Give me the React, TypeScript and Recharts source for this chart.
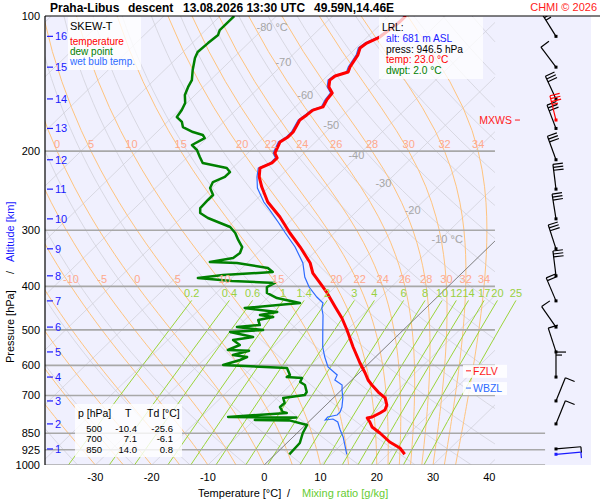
import React from 'react';
import { ComposedChart, Line, Scatter, XAxis, YAxis, CartesianGrid } from 'recharts';

const FONT = '"Liberation Sans", Arial, Helvetica, sans-serif';

// Praha-Libus descent, 13.08.2026 13:30 UTC  (pressure hPa / temperature °C)
const TEMP_P = [100, 103, 111.4, 114.9, 117.8, 122.1, 129.9, 133.3, 136.0, 138.9, 143.9, 148.4, 153.8, 159.4, 162.0,
  166.1, 170.5, 181.3, 186.0, 190.8, 196.8, 201.9, 207.1, 212.5, 218.1, 228.3, 240.4, 259.6, 280.3, 304.3, 327.0,
  354.9, 373.6, 393.2, 413.9, 444.7, 470.6, 500.4, 546.0, 592.7, 623.9, 646.7, 663.5, 687.8, 709.0, 735.0, 754.5,
  765.9, 781.8, 785.8, 802.1, 822.8, 848.6, 888.8, 916.6, 946.5];
const TEMP_C = [-57.0, -57.0, -57.8, -59.0, -59.3, -58.4, -57.6, -57.0, -58.6, -58.8, -57.7, -56.0, -55.7, -55.1, -56.3,
  -56.5, -56.8, -55.8, -55.8, -56.3, -55.7, -55.2, -53.9, -53.9, -55.1, -53.6, -51.3, -47.5, -42.6, -37.9, -33.5,
  -28.8, -26.5, -23.4, -20.3, -16.3, -13.1, -10.0, -5.8, -1.65, 1.1, 2.9, 4.5, 6.9, 9.2, 10.8, 11.4,
  11.05, 10.4, 9.7, 10.9, 12.2, 14.7, 18.1, 21.0, 23.0];

const DEW_P = [100, 102.1, 107.5, 110.2, 114.9, 120.3, 124.0, 131.9, 138.9, 143.9, 150.0, 156.2, 162.0, 167.9, 172.2,
  176.7, 181.3, 184.1, 187.0, 193.8, 198.8, 206.1, 212.5, 218.1, 222.6, 228.3, 234.3, 241.6, 250.4, 256.9, 267.7,
  274.6, 281.8, 289.1, 295.1, 304.3, 315.4, 327.0, 337.2, 345.9, 353.1, 354.9, 364.1, 371.7, 377.4, 383.3, 389.2,
  393.2, 401.4, 413.9, 424.7, 435.7, 447.0, 456.3, 463.4, 468.1, 475.4, 487.8, 492.8, 500.4, 505.6, 518.7, 526.8,
  540.4, 554.5, 556.5, 568.9, 574.8, 583.7, 598.8, 608.1, 630.3, 636.8, 640.1, 653.4, 663.5, 687.8, 698.4, 709.0,
  727.7, 742.8, 762.0, 765.9, 781.8, 783.5, 793.9, 795.5, 814.6, 848.6, 893.3, 946.5];
const DEW_C = [-87.5, -87.5, -87.5, -86.9, -87.2, -87.4, -86.8, -85.0, -83.3, -82.7, -81.8, -80.3, -79.6, -79.2, -77.4,
  -76.3, -73.6, -71.3, -70.4, -71.4, -69.6, -67.8, -66.2, -61.0, -59.7, -59.7, -60.9, -60.3, -58.5, -58.5, -58.4,
  -57.5, -55.2, -52.1, -49.6, -47.6, -45.8, -43.8, -43.1, -43.4, -46.8, -41.8, -35.4, -33.8, -42.1, -46.0, -39.4,
  -31.4, -32.1, -31.0, -28.3, -23.3, -32.2, -25.7, -28.2, -25.5, -27.6, -26.4, -30.1, -24.9, -30.4, -25.4, -28.4,
  -26.3, -27.5, -23.6, -25.7, -22.8, -23.5, -25.6, -13.7, -11.9, -12.1, -9.2, -8.8, -7.4, -5.8, -5.6, -8.9,
  -7.7, -7.8, -6.4, -5.5, -15.2, -3.0, -9.9, -3.7, 0.3, 1.0, 2.3, 2.5];

const WET_P = [100, 103, 111.4, 114.9, 117.8, 122.1, 129.9, 133.3, 136.0, 138.9, 143.9, 148.4, 153.8, 159.4, 162.0,
  166.1, 170.5, 181.3, 186.0, 190.8, 196.8, 201.9, 207.1, 212.5, 218.1, 228.3, 241.6, 259.6, 270.4, 287.6, 304.3,
  327.0, 354.9, 381.3, 401.4, 422.5, 435.7, 447.0, 463.4, 500.4, 546.0, 574.8, 605.0, 630.3, 646.7, 663.5, 680.7,
  709.0, 742.8, 762.0, 773.8, 781.8, 793.9, 789.9, 802.1, 835.7, 866.2, 911.8, 946.5];
const WET_C = [-57.3, -57.3, -58.1, -59.3, -59.6, -58.7, -57.9, -57.3, -58.9, -59.1, -58.0, -56.3, -56.0, -55.4, -56.6,
  -56.8, -57.1, -56.1, -56.1, -56.6, -56.0, -55.5, -54.2, -54.2, -55.4, -54.0, -51.9, -48.2, -45.7, -42.0, -38.7,
  -34.4, -30.1, -27.2, -24.6, -21.4, -19.2, -18.5, -17.0, -14.3, -11.2, -9.0, -6.6, -3.5, -3.0, -0.8, 0.1,
  1.7, 3.2, 3.8, 3.8, 2.5, 2.6, 3.8, 5.2, 7.1, 8.9, 11.1, 12.7];

// altitude marks (km) and the winds reported at them
const ALT_KM = [1, 2, 3, 4, 5, 6, 7, 8, 9, 10, 11, 12, 13, 14, 15, 16];
const ALT_P = [921, 810, 720, 637, 560, 493, 431, 379, 330, 283, 243, 209, 178, 153, 130, 111];
const WIND_DIR = [85, 22, 22, 0, 342, 325, 337, 353, 342, 351, 353, 340, 339, 335, 323, 328];
const WIND_KT = [5, 10, 10, 15, 10, 10, 20, 30, 30, 30, 30, 30, 30, 30, 10, 25];
const SFC_WIND = [{ p: 946.5, dir: 85, kt: 5 }];
const MAX_WIND = [{ p: 170.5, dir: 346, kt: 35 }];

const TABLE_P = ['500', '700', '850'];
const TABLE_T = ['-10.4', '7.1', '14.0'];
const TABLE_TD = ['-25.6', '-6.1', '0.8'];

const FZLV_P = 617;
const WBZL_P = 674;

// diagram grid
const X_TICKS = [-30, -20, -10, 0, 10, 20, 30, 40];
const P_TICKS = [100, 200, 300, 400, 500, 600, 700, 850, 925, 1000];
const P_LINES_UPPER = [200, 300, 400, 500, 600, 700];
const P_LINES_LOWER = [850, 925, 1000];
const ISOTHERMS = [-120, -110, -100, -90, -80, -70, -60, -50, -40, -30, -20, -10, 0, 10, 20, 30, 40];
const ISO_LABELS = ['-80 °C', '-70', '-60', '-50', '-40', '-30', '-20', '-10 °C'];
const ISO_LABEL_T = [-80, -70, -60, -50, -40, -30, -20, -10];
const ISO_LABEL_P = [105.6, 126.6, 150.3, 174.7, 204, 236, 270, 314];
const DRY_THETA = [230, 240, 250, 260, 270, 280, 290, 300, 310, 320, 330, 340, 350, 360, 370, 380, 390, 400, 410,
  420, 430, 440, 450];
const MOIST_TW = [-30, -25, -20, -15, -10, -5, 0, 5, 10, 15, 20, 22, 24, 26, 28, 30, 32, 34];
const MIX_RATIO = [0.2, 0.4, 0.6, 1, 1.4, 2, 3, 4, 6, 8, 10, 12, 14, 17, 20, 25];
const MIX_LEVELS = [1000, 900, 800, 700, 600, 500, 430];

// skewed x axis: °C at 1000 hPa
const X_MIN = -38.94;
const X_MAX = 58.06;
const X_GRID_MAX = 41.0;
const X_LOW_LINES = 49.9;
const SKEW = 35.69;
const BARB_X = 51.84;
const ZL_X = 35.85;
const MXWS_X = 45.44;

type Pt = { x: number; p: number };

const skewX = (t: number, p: number) => t + SKEW * Math.log(1000 / p);

const clipRight = (pts: Pt[], xmax: number): Pt[] => {
  const out: Pt[] = [];
  for (let i = 0; i < pts.length; i++) {
    const a = pts[i];
    const inA = a.x <= xmax;
    if (inA) out.push(a);
    const b = pts[i + 1];
    if (!b) break;
    if (inA !== b.x <= xmax) {
      const f = (xmax - a.x) / (b.x - a.x);
      out.push({ x: xmax, p: Math.exp(Math.log(a.p) + f * (Math.log(b.p) - Math.log(a.p))) });
    }
  }
  return out;
};

const satMix = (tc: number, p: number) => {
  const e = 6.112 * Math.exp((17.67 * tc) / (tc + 243.5));
  return (0.622 * e) / (p - e);
};

const moistRate = (tk: number, p: number) => {
  const r = satMix(tk - 273.15, p);
  return (287.04 * tk + 2.501e6 * r) / p / (1005.7 + (2.501e6 * 2.501e6 * r * 0.622) / (287.04 * tk * tk));
};

const moistAdiabat = (tw: number): Pt[] => {
  const pts: Pt[] = [{ x: skewX(tw, 1000), p: 1000 }];
  let tk = tw + 273.15;
  let p = 1000;
  const dp = -5;
  while (p > 100) {
    const k1 = moistRate(tk, p);
    const k2 = moistRate(tk + k1 * dp, p + dp);
    tk += 0.5 * (k1 + k2) * dp;
    p += dp;
    if (p % 20 === 0) pts.push({ x: skewX(tk - 273.15, p), p });
  }
  return pts;
};

const dewFromVapour = (e: number) => {
  const l = Math.log(e / 6.112);
  return (243.5 * l) / (17.67 - l);
};

const profile = (ps: number[], ts: number[]): Pt[] => ps.map((p, i) => ({ x: skewX(ts[i], p), p }));

const DRY_LEVELS = Array.from({ length: 37 }, (_, i) => 1000 * Math.pow(0.1, i / 36));

const isoLines = ISOTHERMS.map((t) =>
  clipRight([{ x: skewX(t, 1000), p: 1000 }, { x: skewX(t, 100), p: 100 }], X_GRID_MAX)
);
const zeroLine = clipRight([{ x: 0, p: 1000 }, { x: skewX(0, 100), p: 100 }], X_GRID_MAX);
const dryLines = DRY_THETA.map((th) =>
  clipRight(DRY_LEVELS.map((p) => ({ x: skewX(th * Math.pow(p / 1000, 0.2857) - 273.15, p), p })), X_GRID_MAX)
).filter((d) => d.length > 1);
const moistCurves = MOIST_TW.map((tw) => ({ tw, pts: moistAdiabat(tw) }));
const moistLines = moistCurves.map((c) => clipRight(c.pts, X_GRID_MAX)).filter((d) => d.length > 1);
const moistLabels: { x: number; p: number; label: string }[] = [];
[200, 400].forEach((level) =>
  moistCurves.forEach((c) => {
    const q = c.pts.find((pt) => pt.p === level);
    if (q && q.x > X_MIN + 0.8 && q.x < X_GRID_MAX - 0.5) moistLabels.push({ x: q.x, p: level, label: String(c.tw) });
  })
);
const mixLines = MIX_RATIO.map((w) => MIX_LEVELS.map((p) => ({ x: skewX(dewFromVapour((w * p) / (622 + w)), p), p })));
const mixLabels = MIX_RATIO.map((w) => {
  const p = MIX_LEVELS[MIX_LEVELS.length - 1];
  return { x: skewX(dewFromVapour((w * p) / (622 + w)), p), p, label: String(w) };
});
const isoLabels = ISO_LABEL_T.map((t, i) => ({ x: skewX(t, ISO_LABEL_P[i]), p: ISO_LABEL_P[i], label: ISO_LABELS[i] }));
const pLinesUpper = P_LINES_UPPER.map((p) => [{ x: X_MIN, p }, { x: X_GRID_MAX, p }]);
const pLinesLower = P_LINES_LOWER.map((p) => [{ x: X_MIN, p }, { x: X_LOW_LINES, p }]);

const tempLine = profile(TEMP_P, TEMP_C);
const dewLine = profile(DEW_P, DEW_C);
const wetLine = profile(WET_P, WET_C);

const altMarks = ALT_KM.map((km, i) => ({ x: X_MIN, p: ALT_P[i], label: String(km) }));
const barbs = ALT_P.map((p, i) => ({ x: BARB_X, p, dir: WIND_DIR[i], kt: WIND_KT[i] }));
const sfcBarb = SFC_WIND.map((w) => ({ x: BARB_X, ...w }));
const maxBarb = MAX_WIND.map((w) => ({ x: BARB_X, ...w }));
const zeroLevels = [
  { x: ZL_X, p: FZLV_P, label: 'FZLV' },
  { x: ZL_X, p: WBZL_P, label: 'WBZL' },
];
const mxwsLabel = MAX_WIND.map((w) => ({ x: MXWS_X, p: w.p, label: 'MXWS' }));

const textShape = (fill: string, anchor: 'start' | 'middle' | 'end', dx: number, dy: number) => (props: any) => (
  <text x={props.cx + dx} y={props.cy + dy} fill={fill} fontSize={11} fontFamily={FONT} textAnchor={anchor}>
    {props.payload.label}
  </text>
);

const isoLabelShape = (props: any) => {
  const withUnit = props.payload.label.includes('°');
  return (
    <text x={props.cx + (withUnit ? -9 : -2)} y={props.cy + 4} fill="#a6a6a6" fontSize={11} fontFamily={FONT}
      textAnchor={withUnit ? 'start' : 'middle'}>
      {props.payload.label}
    </text>
  );
};

const altShape = (props: any) => (
  <g>
    <line x1={props.cx + 2} x2={props.cx + 8} y1={props.cy} y2={props.cy} stroke="#1a1aff" strokeWidth={1.2} />
    <text x={props.cx + 10} y={props.cy + 4} fill="#1a1aff" fontSize={11} fontFamily={FONT}>
      {props.payload.label}
    </text>
  </g>
);

const zeroLevelShape = (props: any) => {
  const color = props.payload.label === 'FZLV' ? '#ff1a1a' : '#2e6bff';
  return (
    <g>
      <rect x={props.cx - 3} y={props.cy - 6} width={44} height={13} fill="#fff" fillOpacity={0.85} />
      <line x1={props.cx} x2={props.cx + 5} y1={props.cy} y2={props.cy} stroke={color} strokeWidth={1} />
      <text x={props.cx + 7} y={props.cy + 4} fill={color} fontSize={10.5} fontFamily={FONT}>
        {props.payload.label}
      </text>
    </g>
  );
};

const mxwsShape = (props: any) => (
  <g>
    <line x1={props.cx - 5} x2={props.cx} y1={props.cy} y2={props.cy} stroke="#ff1a1a" strokeWidth={1} />
    <text x={props.cx - 8} y={props.cy + 4} fill="#ff1a1a" fontSize={10.5} fontFamily={FONT} textAnchor="end">
      {props.payload.label}
    </text>
  </g>
);

const barbShape = (color: string) => (props: any) => {
  const { cx, cy, payload } = props;
  const a = (payload.dir * Math.PI) / 180;
  const ux = Math.sin(a);
  const uy = -Math.cos(a);
  const px = -uy;
  const py = ux;
  const tx = cx + ux * 25;
  const ty = cy + uy * 25;
  const feathers: React.ReactNode[] = [];
  let kt = payload.kt;
  let pos = 0;
  while (kt >= 10) {
    const bx = tx - ux * pos;
    const by = ty - uy * pos;
    feathers.push(<line key={pos} x1={bx} y1={by} x2={bx + px * 10} y2={by + py * 10} />);
    kt -= 10;
    pos += 3;
  }
  if (kt >= 5) {
    const bx = tx - ux * pos;
    const by = ty - uy * pos;
    feathers.push(<line key={pos} x1={bx} y1={by} x2={bx + px * 6} y2={by + py * 6} />);
  }
  return (
    <g stroke={color} strokeWidth={1.2} fill="none">
      <line x1={cx} y1={cy} x2={tx} y2={ty} />
      {feathers}
      <rect x={cx - 1.5} y={cy - 1.5} width={3} height={3} fill={color} stroke="none" />
    </g>
  );
};

const gridLine = (d: Pt[], key: string, stroke: string, width: number) => (
  <Line key={key} data={d} dataKey="p" stroke={stroke} strokeWidth={width} dot={false} activeDot={false}
    isAnimationActive={false} />
);

export default function App() {
  return (
    <div style={{ position: 'absolute', left: 0, top: 0, width: 600, height: 500, background: '#fff', fontFamily: FONT }}>
      <ComposedChart width={600} height={500} margin={{ top: 16, right: 9, bottom: 0, left: 0 }}>
        <CartesianGrid fill="#f0f0fe" stroke="none" horizontal={false} vertical={false} />
        <XAxis type="number" dataKey="x" domain={[X_MIN, X_MAX]} allowDataOverflow ticks={X_TICKS} interval={0}
          axisLine={false} tickLine={false} height={35} tick={{ fontSize: 11, fill: '#000', fontFamily: FONT }} />
        <YAxis type="number" dataKey="p" scale="log" domain={[100, 1000]} reversed allowDataOverflow ticks={P_TICKS}
          interval={0} width={45} axisLine={{ stroke: '#000', strokeWidth: 1.2 }} tickLine={false} tickSize={3}
          tickMargin={2} tick={{ fontSize: 11, fill: '#000', fontFamily: FONT }} />

        {isoLines.map((d, i) => gridLine(d, `iso${i}`, '#d2d2da', 0.8))}
        {dryLines.map((d, i) => gridLine(d, `dry${i}`, '#d2d2da', 0.8))}
        {moistLines.map((d, i) => gridLine(d, `moist${i}`, '#ffc47e', 1))}
        {mixLines.map((d, i) => gridLine(d, `mix${i}`, '#9bd43a', 1))}
        {pLinesUpper.map((d, i) => gridLine(d, `pu${i}`, '#a8a8a8', 1.6))}
        {pLinesLower.map((d, i) => gridLine(d, `pl${i}`, '#a8a8a8', 1.6))}
        {gridLine(zeroLine, 'zero', '#707070', 0.8)}

        <Line data={dewLine} dataKey="p" stroke="#008000" strokeWidth={2.5} strokeLinejoin="round" dot={false}
          activeDot={false} isAnimationActive={false} />
        <Line data={wetLine} dataKey="p" stroke="#2e6bff" strokeWidth={1.2} dot={false} activeDot={false}
          isAnimationActive={false} />
        <Line data={tempLine} dataKey="p" stroke="#ff0000" strokeWidth={3} strokeLinejoin="round" dot={false}
          activeDot={false} isAnimationActive={false} />

        <Scatter data={isoLabels} shape={isoLabelShape} isAnimationActive={false} />
        <Scatter data={moistLabels} shape={textShape('#ffa98c', 'middle', 0, -3)} isAnimationActive={false} />
        <Scatter data={mixLabels} shape={textShape('#99d13f', 'middle', 0, -3)} isAnimationActive={false} />
        <Scatter data={altMarks} shape={altShape} isAnimationActive={false} />
        <Scatter data={zeroLevels} shape={zeroLevelShape} isAnimationActive={false} />
        <Scatter data={mxwsLabel} shape={mxwsShape} isAnimationActive={false} />
        <Scatter data={barbs} shape={barbShape('#000')} isAnimationActive={false} />
        <Scatter data={maxBarb} shape={barbShape('#ff0000')} isAnimationActive={false} />
        <Scatter data={sfcBarb} shape={barbShape('#1a1aff')} isAnimationActive={false} />
      </ComposedChart>

      <svg width={600} height={500} style={{ position: 'absolute', left: 0, top: 0, pointerEvents: 'none' }}
        fontFamily={FONT}>
        <line x1={45} x2={600} y1={16} y2={16} stroke="#000" strokeWidth={1.2} />
        <g fontSize={12} fontWeight="bold" fill="#000">
          <text x={50} y={12}>Praha-Libus</text>
          <text x={128} y={12}>descent</text>
          <text x={183} y={12}>13.08.2026 13:30 UTC</text>
          <text x={314} y={12}>49.59N,14.46E</text>
        </g>
        <text x={597} y={11} fontSize={11} fill="#ff1a1a" textAnchor="end">CHMI © 2026</text>

        <rect x={68} y={17} width={73} height={53} fill="#fff" fillOpacity={0.8} />
        <text x={70} y={30} fontSize={11} fill="#000">SKEW-T</text>
        <text x={70} y={45} fontSize={10} fill="#ff0000">temperature</text>
        <text x={70} y={55} fontSize={10} fill="#008000">dew point</text>
        <text x={70} y={65} fontSize={10} fill="#2e6bff">wet bulb temp.</text>

        <rect x={379} y={17} width={104} height={62} fill="#fff" fillOpacity={0.75} />
        <g fontSize={10.2}>
          <text x={382} y={31} fill="#000">LRL:</text>
          <text x={386} y={42} fill="#1a1aff">alt: 681 m ASL</text>
          <text x={386} y={52.6} fill="#000">press: 946.5 hPa</text>
          <text x={386} y={63.2} fill="#ff0000">temp: 23.0 °C</text>
          <text x={386} y={73.8} fill="#008000">dwpt: 2.0 °C</text>
        </g>

        <rect x={75} y={404} width={107} height={53} fill="#fff" fillOpacity={0.8} />
        <text x={78} y={416.5} fontSize={10.5}>p [hPa]</text>
        <text x={125} y={416.5} fontSize={10.5}>T</text>
        <text x={147} y={416.5} fontSize={10.5}>Td [°C]</text>
        {TABLE_P.map((p, i) => (
          <g key={p} fontSize={9.5} textAnchor="end">
            <text x={102} y={431.5 + i * 10.7}>{p}</text>
            <text x={137} y={431.5 + i * 10.7}>{TABLE_T[i]}</text>
            <text x={173} y={431.5 + i * 10.7}>{TABLE_TD[i]}</text>
          </g>
        ))}

        <g fontSize={11}>
          <text x={198} y={497} fill="#000">Temperature [°C]</text>
          <text x={287} y={497} fill="#000">/</text>
          <text x={302} y={497} fill="#66cc33">Mixing ratio [g/kg]</text>
        </g>
        <g fontSize={11} transform="rotate(-90)">
          <text x={-363} y={14} fill="#000">Pressure [hPa]</text>
          <text x={-274} y={14} fill="#000">/</text>
          <text x={-262} y={14} fill="#1a1aff">Altitude [km]</text>
        </g>
      </svg>
    </div>
  );
}
